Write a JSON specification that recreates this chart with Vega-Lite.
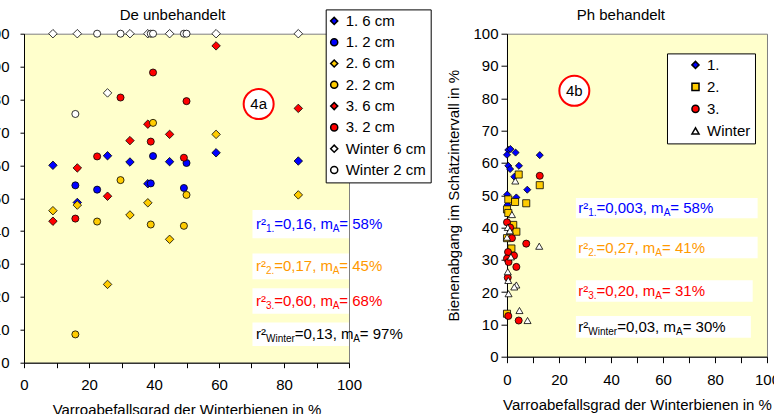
{
  "$schema": "https://vega.github.io/schema/vega-lite/v6.json",
  "padding": {"left": -17, "top": 6.7, "right": 0, "bottom": 0},
  "background": "white",
  "bounds": "flush",
  "spacing": 158,
  "config": {
    "font": "Liberation Sans",
    "view": {"fill": "#FFFFCC", "stroke": "#808080", "strokeWidth": 1},
    "axis": {"grid": false, "domainColor": "black", "tickColor": "black", "labelColor": "black", "titleColor": "black", "labelFontSize": 15, "titleFontSize": 15, "titleFontWeight": "normal", "labelFont": "Liberation Sans", "titleFont": "Liberation Sans", "domainWidth": 1, "tickWidth": 1, "labelFlush": false, "labelOverlap": false, "labelBound": false},
    "legend": {"strokeColor": "black", "fillColor": "white", "padding": 4, "labelFontSize": 15, "labelFont": "Liberation Sans", "labelColor": "black", "symbolSize": 50, "cornerRadius": 0}
  },
  "datasets": {
    "left_pts": [
      {"x": 8.9, "y": 60.0, "series": "1. 6 cm"}, {"x": 16.4, "y": 48.7, "series": "1. 6 cm"}, {"x": 25.7, "y": 62.9, "series": "1. 6 cm"}, {"x": 32.6, "y": 61.0, "series": "1. 6 cm"}, {"x": 38.1, "y": 54.4, "series": "1. 6 cm"}, {"x": 44.8, "y": 61.1, "series": "1. 6 cm"}, {"x": 59.1, "y": 63.8, "series": "1. 6 cm"}, {"x": 84.4, "y": 61.3, "series": "1. 6 cm"},
      {"x": 15.8, "y": 53.9, "series": "1. 2 cm"}, {"x": 22.5, "y": 52.6, "series": "1. 2 cm"}, {"x": 39.0, "y": 54.5, "series": "1. 2 cm"}, {"x": 39.7, "y": 62.8, "series": "1. 2 cm"}, {"x": 49.2, "y": 53.1, "series": "1. 2 cm"}, {"x": 50.0, "y": 60.7, "series": "1. 2 cm"},
      {"x": 8.9, "y": 46.2, "series": "2. 6 cm"}, {"x": 16.4, "y": 47.9, "series": "2. 6 cm"}, {"x": 25.7, "y": 23.8, "series": "2. 6 cm"}, {"x": 32.6, "y": 44.9, "series": "2. 6 cm"}, {"x": 38.1, "y": 48.6, "series": "2. 6 cm"}, {"x": 44.8, "y": 37.5, "series": "2. 6 cm"}, {"x": 59.1, "y": 69.4, "series": "2. 6 cm"}, {"x": 84.4, "y": 51.0, "series": "2. 6 cm"},
      {"x": 15.8, "y": 8.6, "series": "2. 2 cm"}, {"x": 22.5, "y": 42.9, "series": "2. 2 cm"}, {"x": 29.7, "y": 55.5, "series": "2. 2 cm"}, {"x": 39.0, "y": 42.0, "series": "2. 2 cm"}, {"x": 39.7, "y": 72.9, "series": "2. 2 cm"}, {"x": 49.2, "y": 41.6, "series": "2. 2 cm"}, {"x": 50.0, "y": 51.0, "series": "2. 2 cm"},
      {"x": 8.9, "y": 43.0, "series": "3. 6 cm"}, {"x": 16.4, "y": 59.2, "series": "3. 6 cm"}, {"x": 25.7, "y": 50.6, "series": "3. 6 cm"}, {"x": 32.6, "y": 67.5, "series": "3. 6 cm"}, {"x": 38.1, "y": 72.5, "series": "3. 6 cm"}, {"x": 44.8, "y": 69.4, "series": "3. 6 cm"}, {"x": 59.1, "y": 96.3, "series": "3. 6 cm"}, {"x": 84.4, "y": 77.3, "series": "3. 6 cm"},
      {"x": 15.8, "y": 43.8, "series": "3. 2 cm"}, {"x": 22.5, "y": 62.7, "series": "3. 2 cm"}, {"x": 29.7, "y": 80.6, "series": "3. 2 cm"}, {"x": 39.0, "y": 67.2, "series": "3. 2 cm"}, {"x": 39.7, "y": 88.2, "series": "3. 2 cm"}, {"x": 49.2, "y": 62.3, "series": "3. 2 cm"}, {"x": 50.0, "y": 79.5, "series": "3. 2 cm"},
      {"x": 8.9, "y": 100, "series": "Winter 6 cm"}, {"x": 16.4, "y": 100, "series": "Winter 6 cm"}, {"x": 25.7, "y": 82.0, "series": "Winter 6 cm"}, {"x": 32.6, "y": 100, "series": "Winter 6 cm"}, {"x": 38.1, "y": 100, "series": "Winter 6 cm"}, {"x": 44.8, "y": 100, "series": "Winter 6 cm"}, {"x": 59.1, "y": 100, "series": "Winter 6 cm"}, {"x": 84.4, "y": 100, "series": "Winter 6 cm"},
      {"x": 15.8, "y": 75.6, "series": "Winter 2 cm"}, {"x": 22.5, "y": 100, "series": "Winter 2 cm"}, {"x": 29.7, "y": 100, "series": "Winter 2 cm"}, {"x": 39.0, "y": 100, "series": "Winter 2 cm"}, {"x": 39.7, "y": 100, "series": "Winter 2 cm"}, {"x": 49.2, "y": 100, "series": "Winter 2 cm"}, {"x": 50.0, "y": 100, "series": "Winter 2 cm"}
    ],
    "right_pts": [
      {"x": 0.5, "y": 64.0, "series": "1."}, {"x": 1.3, "y": 64.3, "series": "1."}, {"x": 0.0, "y": 62.5, "series": "1."}, {"x": 3.3, "y": 63.2, "series": "1."}, {"x": 0.5, "y": 59.1, "series": "1."}, {"x": 1.2, "y": 58.1, "series": "1."}, {"x": 4.6, "y": 59.1, "series": "1."}, {"x": 2.8, "y": 55.7, "series": "1."}, {"x": 7.8, "y": 51.7, "series": "1."}, {"x": 12.6, "y": 62.4, "series": "1."}, {"x": 0.1, "y": 50.2, "series": "1."}, {"x": 3.6, "y": 49.3, "series": "1."}, {"x": 0.2, "y": 47.0, "series": "1."},
      {"x": 4.5, "y": 56.4, "series": "2."}, {"x": 12.6, "y": 53.1, "series": "2."}, {"x": 0.5, "y": 48.7, "series": "2."}, {"x": 3.1, "y": 47.9, "series": "2."}, {"x": 7.4, "y": 47.5, "series": "2."}, {"x": 0.0, "y": 45.6, "series": "2."}, {"x": 0.5, "y": 44.5, "series": "2."}, {"x": 2.4, "y": 40.8, "series": "2."}, {"x": 3.6, "y": 38.7, "series": "2."}, {"x": 0.0, "y": 36.7, "series": "2."}, {"x": 1.7, "y": 33.5, "series": "2."}, {"x": 0.0, "y": 13.3, "series": "2."},
      {"x": 12.6, "y": 56.0, "series": "3."}, {"x": 0.0, "y": 41.6, "series": "3."}, {"x": 1.2, "y": 40.0, "series": "3."}, {"x": 1.9, "y": 36.7, "series": "3."}, {"x": 7.4, "y": 35.0, "series": "3."}, {"x": 0.4, "y": 32.4, "series": "3."}, {"x": 0.0, "y": 30.4, "series": "3."}, {"x": 0.6, "y": 29.3, "series": "3."}, {"x": 2.7, "y": 31.3, "series": "3."}, {"x": 3.6, "y": 27.8, "series": "3."}, {"x": 0.3, "y": 24.5, "series": "3."}, {"x": 0.5, "y": 12.6, "series": "3."}, {"x": 4.5, "y": 11.2, "series": "3."},
      {"x": 3.2, "y": 54.4, "series": "Winter"}, {"x": 1.9, "y": 44.0, "series": "Winter"}, {"x": 0.3, "y": 40.0, "series": "Winter"}, {"x": 1.1, "y": 39.0, "series": "Winter"}, {"x": 0.0, "y": 37.0, "series": "Winter"}, {"x": 12.4, "y": 34.2, "series": "Winter"}, {"x": 1.5, "y": 30.9, "series": "Winter"}, {"x": 0.3, "y": 26.3, "series": "Winter"}, {"x": 0.5, "y": 23.6, "series": "Winter"}, {"x": 3.6, "y": 22.2, "series": "Winter"}, {"x": 2.8, "y": 21.6, "series": "Winter"}, {"x": 0.6, "y": 19.5, "series": "Winter"}, {"x": 4.8, "y": 14.3, "series": "Winter"}, {"x": 7.9, "y": 11.2, "series": "Winter"}
    ],
    "left_boxes": [
      {"x": 70.3, "x2": 100, "y": 37.8, "y2": 46.4}, {"x": 70.3, "x2": 100, "y": 25.4, "y2": 33.2}, {"x": 70.3, "x2": 100, "y": 14.9, "y2": 22.6}, {"x": 70.3, "x2": 100, "y": 5.1, "y2": 12.2}
    ],
    "right_boxes": [
      {"x": 26.5, "x2": 96.4, "y": 42.9, "y2": 49.1}, {"x": 26.5, "x2": 96.4, "y": 30.5, "y2": 37.1}, {"x": 26.5, "x2": 94.5, "y": 17.0, "y2": 23.7}, {"x": 26.5, "x2": 93.8, "y": 5.9, "y2": 12.6}
    ],
    "left_text": [
      {"x": 71.4, "y": 42.1, "t": "r²", "kind": "main", "g": "b"}, {"x": 74.46, "y": 42.1, "t": "1.", "kind": "sub", "g": "b"}, {"x": 77.0, "y": 42.1, "t": "=0,16, m", "kind": "main", "g": "b"}, {"x": 94.98, "y": 42.1, "t": "A", "kind": "sub", "g": "b"}, {"x": 97.03, "y": 42.1, "t": "= 58%", "kind": "main", "g": "b"},
      {"x": 71.4, "y": 29.3, "t": "r²", "kind": "main", "g": "o"}, {"x": 74.46, "y": 29.3, "t": "2.", "kind": "sub", "g": "o"}, {"x": 77.0, "y": 29.3, "t": "=0,17, m", "kind": "main", "g": "o"}, {"x": 94.98, "y": 29.3, "t": "A", "kind": "sub", "g": "o"}, {"x": 97.03, "y": 29.3, "t": "= 45%", "kind": "main", "g": "o"},
      {"x": 71.4, "y": 18.75, "t": "r²", "kind": "main", "g": "r"}, {"x": 74.46, "y": 18.75, "t": "3.", "kind": "sub", "g": "r"}, {"x": 77.0, "y": 18.75, "t": "=0,60, m", "kind": "main", "g": "r"}, {"x": 94.98, "y": 18.75, "t": "A", "kind": "sub", "g": "r"}, {"x": 97.03, "y": 18.75, "t": "= 68%", "kind": "main", "g": "r"},
      {"x": 71.4, "y": 8.65, "t": "r²", "kind": "main", "g": "k"}, {"x": 74.46, "y": 8.65, "t": "Winter", "kind": "sub", "g": "k"}, {"x": 83.3, "y": 8.65, "t": "=0,13, m", "kind": "main", "g": "k"}, {"x": 101.28, "y": 8.65, "t": "A", "kind": "sub", "g": "k"}, {"x": 103.33, "y": 8.65, "t": "= 97%", "kind": "main", "g": "k"}
    ],
    "right_text": [
      {"x": 27.4, "y": 46.0, "t": "r²", "kind": "main", "g": "b"}, {"x": 31.25, "y": 46.0, "t": "1.", "kind": "sub", "g": "b"}, {"x": 34.44, "y": 46.0, "t": "=0,003, m", "kind": "main", "g": "b"}, {"x": 60.25, "y": 46.0, "t": "A", "kind": "sub", "g": "b"}, {"x": 62.83, "y": 46.0, "t": "= 58%", "kind": "main", "g": "b"},
      {"x": 27.4, "y": 33.8, "t": "r²", "kind": "main", "g": "o"}, {"x": 31.25, "y": 33.8, "t": "2.", "kind": "sub", "g": "o"}, {"x": 34.44, "y": 33.8, "t": "=0,27, m", "kind": "main", "g": "o"}, {"x": 57.06, "y": 33.8, "t": "A", "kind": "sub", "g": "o"}, {"x": 59.64, "y": 33.8, "t": "= 41%", "kind": "main", "g": "o"},
      {"x": 27.4, "y": 20.35, "t": "r²", "kind": "main", "g": "r"}, {"x": 31.25, "y": 20.35, "t": "3.", "kind": "sub", "g": "r"}, {"x": 34.44, "y": 20.35, "t": "=0,20, m", "kind": "main", "g": "r"}, {"x": 57.06, "y": 20.35, "t": "A", "kind": "sub", "g": "r"}, {"x": 59.64, "y": 20.35, "t": "= 31%", "kind": "main", "g": "r"},
      {"x": 27.4, "y": 9.25, "t": "r²", "kind": "main", "g": "k"}, {"x": 31.25, "y": 9.25, "t": "Winter", "kind": "sub", "g": "k"}, {"x": 42.37, "y": 9.25, "t": "=0,03, m", "kind": "main", "g": "k"}, {"x": 64.99, "y": 9.25, "t": "A", "kind": "sub", "g": "k"}, {"x": 67.57, "y": 9.25, "t": "= 30%", "kind": "main", "g": "k"}
    ],
    "left_tag": [{"x": 72.2, "y": 78.6, "label": "4a"}],
    "right_tag": [{"x": 25.9, "y": 82.3, "label": "4b"}],
    "left_title": [{"x": 45.7, "y": 105.8, "label": "De unbehandelt"}],
    "right_title": [{"x": 43.8, "y": 105.9, "label": "Ph behandelt"}]
  },
  "hconcat": [
    {
      "width": 325,
      "height": 329,
      "encoding": {
        "x": {"field": "x", "type": "quantitative", "scale": {"domain": [0, 100], "nice": false}, "axis": {"title": "Varroabefallsgrad der Winterbienen in %", "values": [0, 10, 20, 30, 40, 50, 60, 70, 80, 90, 100], "labelExpr": "datum.value % 20 === 0 ? datum.label : ''", "tickSize": 5, "labelPadding": 10, "titlePadding": 10}},
        "y": {"field": "y", "type": "quantitative", "scale": {"domain": [0, 100], "nice": false}, "axis": {"title": null, "values": [0, 10, 20, 30, 40, 50, 60, 70, 80, 90, 100], "tickSize": 4, "labelPadding": 11}}
      },
      "layer": [
        {"data": {"name": "left_boxes"}, "mark": {"type": "rect", "fill": "white"}, "encoding": {"x2": {"field": "x2"}, "y2": {"field": "y2"}}},
        {"data": {"name": "left_pts"}, "transform": [{"filter": "indexof(datum.series, '6 cm') >= 0"}], "mark": {"type": "point", "filled": true, "stroke": "black", "strokeWidth": 0.8, "opacity": 1, "size": 72},
         "encoding": {
           "fill": {"field": "series", "type": "nominal", "scale": {"domain": ["1. 6 cm", "1. 2 cm", "2. 6 cm", "2. 2 cm", "3. 6 cm", "3. 2 cm", "Winter 6 cm", "Winter 2 cm"], "range": ["#0000FF", "#0000FF", "#FFCC00", "#FFCC00", "#FF0000", "#FF0000", "#FFFFFF", "#FFFFFF"]}, "legend": {"title": null, "orient": "none", "legendX": 301.7, "legendY": -24.3, "symbolOffset": -3, "labelOffset": 4, "rowPadding": 5.3, "encode": {"symbols": {"update": {"stroke": {"value": "black"}, "strokeWidth": {"value": 0.8}}}}}},
           "shape": {"field": "series", "type": "nominal", "scale": {"domain": ["1. 6 cm", "1. 2 cm", "2. 6 cm", "2. 2 cm", "3. 6 cm", "3. 2 cm", "Winter 6 cm", "Winter 2 cm"], "range": ["diamond", "circle", "diamond", "circle", "diamond", "circle", "diamond", "circle"]}, "legend": {"title": null, "orient": "none", "legendX": 301.7, "legendY": -24.3, "symbolOffset": -3, "labelOffset": 4, "rowPadding": 5.3, "encode": {"symbols": {"update": {"stroke": {"value": "black"}, "strokeWidth": {"value": 0.8}}}}}}
         }},
        {"data": {"name": "left_pts"}, "transform": [{"filter": "indexof(datum.series, '2 cm') >= 0"}], "mark": {"type": "point", "filled": true, "stroke": "black", "strokeWidth": 0.8, "opacity": 1, "size": 50},
         "encoding": {
           "fill": {"field": "series", "type": "nominal", "scale": {"domain": ["1. 6 cm", "1. 2 cm", "2. 6 cm", "2. 2 cm", "3. 6 cm", "3. 2 cm", "Winter 6 cm", "Winter 2 cm"], "range": ["#0000FF", "#0000FF", "#FFCC00", "#FFCC00", "#FF0000", "#FF0000", "#FFFFFF", "#FFFFFF"]}, "legend": {"title": null, "orient": "none", "legendX": 301.7, "legendY": -24.3, "symbolOffset": -3, "labelOffset": 4, "rowPadding": 5.3, "encode": {"symbols": {"update": {"stroke": {"value": "black"}, "strokeWidth": {"value": 0.8}}}}}},
           "shape": {"field": "series", "type": "nominal", "scale": {"domain": ["1. 6 cm", "1. 2 cm", "2. 6 cm", "2. 2 cm", "3. 6 cm", "3. 2 cm", "Winter 6 cm", "Winter 2 cm"], "range": ["diamond", "circle", "diamond", "circle", "diamond", "circle", "diamond", "circle"]}, "legend": {"title": null, "orient": "none", "legendX": 301.7, "legendY": -24.3, "symbolOffset": -3, "labelOffset": 4, "rowPadding": 5.3, "encode": {"symbols": {"update": {"stroke": {"value": "black"}, "strokeWidth": {"value": 0.8}}}}}}
         }},
        {"data": {"name": "left_text"}, "transform": [{"filter": "datum.kind == 'main'"}], "mark": {"type": "text", "align": "left", "baseline": "middle", "fontSize": 15},
         "encoding": {"text": {"field": "t"}, "color": {"field": "g", "type": "nominal", "scale": {"domain": ["b", "o", "r", "k"], "range": ["#0000FF", "#FF9900", "#FF0000", "#000000"]}, "legend": null}}},
        {"data": {"name": "left_text"}, "transform": [{"filter": "datum.kind == 'sub'"}], "mark": {"type": "text", "align": "left", "baseline": "middle", "fontSize": 10, "dy": 5},
         "encoding": {"text": {"field": "t"}, "color": {"field": "g", "type": "nominal", "scale": {"domain": ["b", "o", "r", "k"], "range": ["#0000FF", "#FF9900", "#FF0000", "#000000"]}, "legend": null}}},
        {"data": {"name": "left_tag"}, "mark": {"type": "point", "shape": "circle", "size": 900, "filled": true, "fill": "white", "stroke": "#FF0000", "strokeWidth": 2, "opacity": 1}},
        {"data": {"name": "left_tag"}, "mark": {"type": "text", "fontSize": 15, "align": "center", "baseline": "middle", "color": "black"}, "encoding": {"text": {"field": "label"}}},
        {"data": {"name": "left_title"}, "mark": {"type": "text", "fontSize": 15, "align": "center", "baseline": "middle", "color": "black"}, "encoding": {"text": {"field": "label"}}}
      ]
    },
    {
      "width": 260,
      "height": 323,
      "encoding": {
        "x": {"field": "x", "type": "quantitative", "scale": {"domain": [0, 100], "nice": false}, "axis": {"title": "Varroabefallsgrad der Winterbienen in %", "values": [0, 10, 20, 30, 40, 50, 60, 70, 80, 90, 100], "labelExpr": "datum.value % 20 === 0 ? datum.label : ''", "tickSize": 6, "labelPadding": 10, "titlePadding": 10}},
        "y": {"field": "y", "type": "quantitative", "scale": {"domain": [0, 100], "nice": false}, "axis": {"title": "Bienenabgang im Schätzintervall in %", "values": [0, 10, 20, 30, 40, 50, 60, 70, 80, 90, 100], "tickSize": 6, "labelPadding": 3, "titlePadding": 11}}
      },
      "layer": [
        {"data": {"name": "right_boxes"}, "mark": {"type": "rect", "fill": "white"}, "encoding": {"x2": {"field": "x2"}, "y2": {"field": "y2"}}},
        {"data": {"name": "right_pts"}, "mark": {"type": "point", "filled": true, "stroke": "black", "strokeWidth": 0.8, "opacity": 1, "size": 50},
         "encoding": {
           "fill": {"field": "series", "type": "nominal", "scale": {"domain": ["1.", "2.", "3.", "Winter"], "range": ["#0000FF", "#FFCC00", "#FF0000", "#FFFFFF"]}, "legend": {"title": null, "orient": "none", "legendX": 160, "legendY": 19.7, "symbolOffset": 17, "labelOffset": 4, "rowPadding": 6, "labelExpr": "datum.label + '\u00a0\u00a0\u00a0\u00a0\u00a0'", "encode": {"symbols": {"update": {"stroke": {"value": "black"}, "strokeWidth": {"value": 0.8}}}}}},
           "shape": {"field": "series", "type": "nominal", "scale": {"domain": ["1.", "2.", "3.", "Winter"], "range": ["diamond", "square", "circle", "triangle-up"]}, "legend": {"title": null, "orient": "none", "legendX": 160, "legendY": 19.7, "symbolOffset": 17, "labelOffset": 4, "rowPadding": 6, "labelExpr": "datum.label + '\u00a0\u00a0\u00a0\u00a0\u00a0'", "encode": {"symbols": {"update": {"stroke": {"value": "black"}, "strokeWidth": {"value": 0.8}}}}}}
         }},
        {"data": {"name": "right_text"}, "transform": [{"filter": "datum.kind == 'main'"}], "mark": {"type": "text", "align": "left", "baseline": "middle", "fontSize": 15},
         "encoding": {"text": {"field": "t"}, "color": {"field": "g", "type": "nominal", "scale": {"domain": ["b", "o", "r", "k"], "range": ["#0000FF", "#FF9900", "#FF0000", "#000000"]}, "legend": null}}},
        {"data": {"name": "right_text"}, "transform": [{"filter": "datum.kind == 'sub'"}], "mark": {"type": "text", "align": "left", "baseline": "middle", "fontSize": 10, "dy": 5},
         "encoding": {"text": {"field": "t"}, "color": {"field": "g", "type": "nominal", "scale": {"domain": ["b", "o", "r", "k"], "range": ["#0000FF", "#FF9900", "#FF0000", "#000000"]}, "legend": null}}},
        {"data": {"name": "right_tag"}, "mark": {"type": "point", "shape": "circle", "size": 900, "filled": true, "fill": "white", "stroke": "#FF0000", "strokeWidth": 2, "opacity": 1}},
        {"data": {"name": "right_tag"}, "mark": {"type": "text", "fontSize": 15, "align": "center", "baseline": "middle", "color": "black"}, "encoding": {"text": {"field": "label"}}},
        {"data": {"name": "right_title"}, "mark": {"type": "text", "fontSize": 15, "align": "center", "baseline": "middle", "color": "black"}, "encoding": {"text": {"field": "label"}}}
      ]
    }
  ],
  "resolve": {"scale": {"x": "independent", "y": "independent", "fill": "independent", "shape": "independent", "color": "independent"}, "legend": {"fill": "independent", "shape": "independent"}}
}
